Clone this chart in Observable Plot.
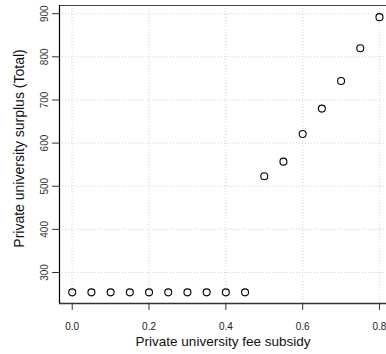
<!DOCTYPE html>
<html>
<head>
<meta charset="utf-8">
<script src="https://cdn.jsdelivr.net/npm/d3@7"></script>
<script src="https://cdn.jsdelivr.net/npm/@observablehq/plot@0.6"></script>
<style>
  html, body { margin: 0; padding: 0; background: white; }
  #chart svg { display: block; }
</style>
</head>
<body>
<div id="chart"></div>
<script>
const subsidy = [0, 0.05, 0.1, 0.15, 0.2, 0.25, 0.3, 0.35, 0.4, 0.45, 0.5, 0.55, 0.6, 0.65, 0.7, 0.75, 0.8];
const surplus = [254, 254, 254, 254, 254, 254, 254, 254, 254, 254, 523, 557, 621, 680, 744, 820, 892];
const xTicks = [0, 0.2, 0.4, 0.6, 0.8];
const yTicks = [300, 400, 500, 600, 700, 800, 900];
const xTitle = "Private university fee subsidy";
const yTitle = "Private university surplus (Total)";

const data = subsidy.map((s, i) => ({subsidy: s, surplus: surplus[i]}));
const xDomain = [-0.0331, 0.8183];
const yDomain = [228.1, 919];

const font = "'Liberation Sans', Arial, Helvetica, sans-serif";

const chart = Plot.plot({
  width: 386,
  height: 354,
  marginLeft: 59,
  marginRight: 0,
  marginTop: 5,
  marginBottom: 51,
  style: {fontFamily: font, background: "white", overflow: "visible"},
  x: {domain: xDomain, axis: null},
  y: {domain: yDomain, axis: null},
  marks: [
    Plot.ruleX(xTicks, {x: d => d, stroke: "#d3d3d3", strokeDasharray: "1,2", strokeWidth: 1}),
    Plot.ruleY(yTicks, {y: d => d, stroke: "#d3d3d3", strokeDasharray: "1,2", strokeWidth: 1}),
    Plot.ruleY([yDomain[1]], {stroke: "#444", strokeWidth: 1.2}),
    Plot.ruleY([yDomain[0]], {stroke: "#333", strokeWidth: 1.6}),
    Plot.ruleX([xDomain[0]], {stroke: "#000", strokeWidth: 1.2}),
    Plot.axisX(xTicks, {tickSize: 7, tickPadding: 12, tickFormat: d3.format(".1f"), fontSize: 10, stroke: "#333", fill: "#222", label: null}),
    Plot.axisY(yTicks, {tickSize: 7, tickFormat: () => "", stroke: "#333", label: null}),
    Plot.text(yTicks, {y: d => d, text: d => String(d), frameAnchor: "left", rotate: -90, textAnchor: "middle", lineAnchor: "bottom", dx: -12, fontSize: 10, fill: "#333"}),
    Plot.dot(data, {x: "subsidy", y: "surplus", r: 3.5, stroke: "black", fill: "none", strokeWidth: 1.1}),
    Plot.text([xTitle], {text: d => d, frameAnchor: "bottom", dy: 38, lineAnchor: "middle", fontSize: 13.5, fill: "#111"}),
    Plot.text([yTitle], {text: d => d, frameAnchor: "left", rotate: -90, dx: -40, dy: -6, lineAnchor: "middle", textAnchor: "middle", fontSize: 14, fill: "#111"})
  ]
});
document.getElementById("chart").appendChild(chart);
</script>
</body>
</html>
